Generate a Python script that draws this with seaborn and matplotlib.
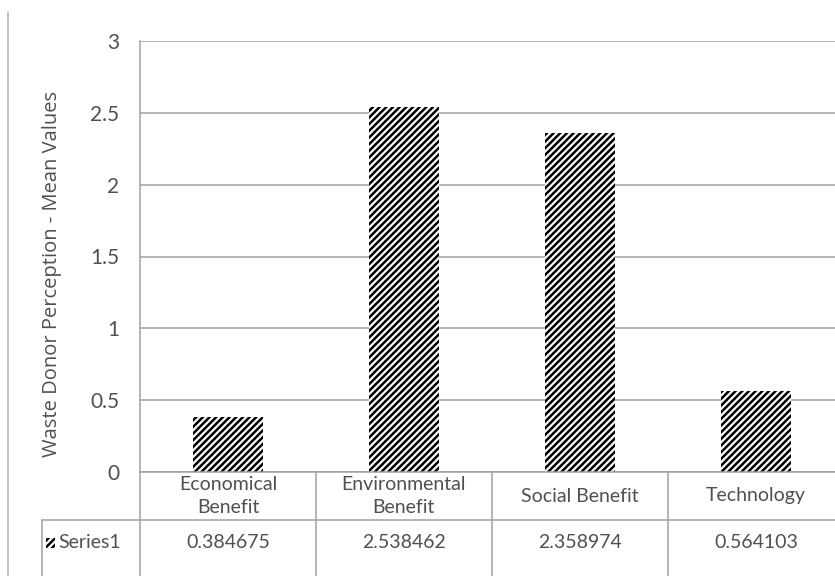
import matplotlib
matplotlib.use('Agg')
import matplotlib.pyplot as plt
import seaborn as sns
import pandas as pd
from matplotlib.patches import Rectangle
from matplotlib.lines import Line2D

categories = ["Economical\nBenefit", "Environmental\nBenefit", "Social Benefit", "Technology"]
values = [0.384675, 2.538462, 2.358974, 0.564103]
value_labels = ["0.384675", "2.538462", "2.358974", "0.564103"]
series_name = "Series1"
yticks = [0, 0.5, 1, 1.5, 2, 2.5, 3]
ytick_labels = ["0", "0.5", "1", "1.5", "2", "2.5", "3"]
ylabel = "Waste Donor Perception - Mean Values"

sns.set_theme(style="white")
plt.rcParams["font.family"] = ["Lato", "DejaVu Sans"]
plt.rcParams["hatch.linewidth"] = 1.8

W, H = 835, 576
fig = plt.figure(figsize=(W / 100, H / 100), dpi=100)
ax = fig.add_axes([140 / W, 104 / H, 695 / W, 431 / H])

df = pd.DataFrame({"cat": categories, "val": values})
sns.barplot(data=df, x="cat", y="val", ax=ax, color="white", edgecolor="black",
            linewidth=0, hatch="/////", width=0.4, saturation=1)

ax.set_xlim(-0.5, 3.45)
ax.set_ylim(0, 3)
ax.set_yticks(yticks)
ax.set_yticklabels(ytick_labels)
ax.yaxis.grid(True, color="#a0a0a0", lw=1.1)
ax.set_axisbelow(True)
for s in ["top", "right"]:
    ax.spines[s].set_visible(False)
for s in ["left", "bottom"]:
    ax.spines[s].set_color("#a0a0a0")
    ax.spines[s].set_linewidth(1.1)
ax.tick_params(axis="x", bottom=False, labelbottom=False)
ax.tick_params(axis="y", left=False, labelsize=15, labelcolor="#505050", pad=9)
ax.set_xlabel("")
ax.set_ylabel(ylabel, fontsize=14.5, color="#505050",
              family=["Open Sans", "DejaVu Sans"])
ax.yaxis.set_label_coords(-0.112, 0.46)

# data table below the axis
trans = ax.get_xaxis_transform()
line_kw = dict(color="#a0a0a0", lw=1.1, transform=trans, clip_on=False)
row1 = -48 / 431
bottom = -0.26
left_x = -0.5 + (42 - 140) / 176
for xb in [-0.5, 0.5, 1.5, 2.5]:
    ax.add_line(Line2D([xb, xb], [0, bottom], **line_kw))
ax.add_line(Line2D([left_x, 3.45], [row1, row1], **line_kw))
ax.add_line(Line2D([left_x, left_x], [row1, bottom], **line_kw))

txt_kw = dict(transform=trans, ha="center", va="center", fontsize=14,
              color="#505050", clip_on=False, linespacing=1.45)
for i, (c, v) in enumerate(zip(categories, value_labels)):
    ax.text(i, -24 / 431, c, **txt_kw)
    ax.text(i, -71 / 431, v, **txt_kw)

# legend key + series name
kx = -0.5 + (46 - 140) / 176
ax.add_patch(Rectangle((kx, -76 / 431), 9 / 176, 10 / 431, transform=trans,
                       facecolor="white", edgecolor="black", linewidth=0,
                       hatch="/////", clip_on=False))
ax.text(-0.5 + (58 - 140) / 176, -71 / 431, series_name, transform=trans,
        ha="left", va="center", fontsize=14, color="#505050", clip_on=False)

# outer chart border on the left
fig.add_artist(Line2D([8 / W, 8 / W], [0, 1 - 12 / H], transform=fig.transFigure,
                      color="#b0b0b0", lw=1.1))

fig.savefig("out.png", dpi=100, facecolor="white")
